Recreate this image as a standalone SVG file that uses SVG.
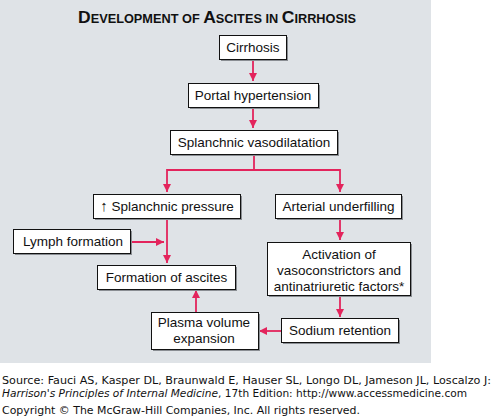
<svg xmlns="http://www.w3.org/2000/svg" width="494" height="417" viewBox="0 0 494 417">
<style>
.bg{fill:#dfe3e7}
.box{fill:#ffffff;stroke:#111;stroke-width:1}
.sh{fill:#8a8e93}
.t{font-family:"Liberation Sans",Arial,sans-serif;font-size:13.5px;fill:#111;text-anchor:middle}
.ttl{font-family:"Liberation Sans",Arial,sans-serif;font-weight:bold;fill:#111}
.c{fill:none;stroke:#e3245c;stroke-width:1.8}
.f{font-family:"DejaVu Sans",Verdana,sans-serif;font-size:10px;fill:#111}
</style>
<defs>
<marker id="ah" markerUnits="userSpaceOnUse" markerWidth="10" markerHeight="10" refX="8" refY="4" orient="auto">
<path d="M0,0 L8,4 L0,8 Z" fill="#e3245c"/>
</marker>
</defs>
<rect class="bg" x="0" y="0" width="431" height="363"/>
<text class="ttl" x="78" y="23" textLength="278" lengthAdjust="spacingAndGlyphs"><tspan font-size="16.5">D</tspan><tspan font-size="12">EVELOPMENT OF </tspan><tspan font-size="16.5">A</tspan><tspan font-size="12">SCITES IN </tspan><tspan font-size="16.5">C</tspan><tspan font-size="12">IRRHOSIS</tspan></text>

<g id="connectors">
<line class="c" x1="253" y1="59" x2="253" y2="81" marker-end="url(#ah)"/>
<line class="c" x1="253" y1="107" x2="253" y2="128" marker-end="url(#ah)"/>
<polyline class="c" points="254,154 254,170"/>
<polyline class="c" points="167,170 340,170"/>
<line class="c" x1="167" y1="169" x2="167" y2="192" marker-end="url(#ah)"/>
<line class="c" x1="340" y1="169" x2="340" y2="192" marker-end="url(#ah)"/>
<line class="c" x1="340" y1="218" x2="340" y2="240" marker-end="url(#ah)"/>
<line class="c" x1="167" y1="218" x2="167" y2="263" marker-end="url(#ah)"/>
<line class="c" x1="130" y1="242" x2="164" y2="242" marker-end="url(#ah)"/>
<line class="c" x1="196" y1="312" x2="196" y2="290" marker-end="url(#ah)"/>
<line class="c" x1="340" y1="295" x2="340" y2="317" marker-end="url(#ah)"/>
<line class="c" x1="281" y1="331" x2="259" y2="331" marker-end="url(#ah)"/>
</g>

<g id="cirrhosis">
<rect class="sh" x="221" y="37" width="67" height="24"/>
<rect class="box" x="219.5" y="35.5" width="67" height="24"/>
<text class="t" x="253" y="52">Cirrhosis</text>
</g>
<g id="portal-hypertension">
<rect class="sh" x="190" y="85" width="130" height="24"/>
<rect class="box" x="188.5" y="83.5" width="130" height="24"/>
<text class="t" x="253" y="100">Portal hypertension</text>
</g>
<g id="splanchnic-vasodilatation">
<rect class="sh" x="172" y="132" width="167" height="24"/>
<rect class="box" x="170.5" y="130.5" width="167" height="24"/>
<text class="t" x="254" y="147">Splanchnic vasodilatation</text>
</g>
<g id="splanchnic-pressure">
<rect class="sh" x="95" y="196" width="147" height="24"/>
<rect class="box" x="93.5" y="194.5" width="147" height="24"/>
<text class="t" x="167" y="211"><tspan font-size="15">↑</tspan> Splanchnic pressure</text>
</g>
<g id="arterial-underfilling">
<rect class="sh" x="277" y="196" width="126" height="24"/>
<rect class="box" x="275.5" y="194.5" width="126" height="24"/>
<text class="t" x="338.5" y="211">Arterial underfilling</text>
</g>
<g id="lymph-formation">
<rect class="sh" x="15" y="231" width="117" height="24"/>
<rect class="box" x="13.5" y="229.5" width="117" height="24"/>
<text class="t" x="73" y="246">Lymph formation</text>
</g>
<g id="activation">
<rect class="sh" x="269" y="244" width="143" height="53"/>
<rect class="box" x="267.5" y="242.5" width="143" height="53"/>
<text class="t" x="339" y="259">Activation of</text>
<text class="t" x="339" y="275">vasoconstrictors and</text>
<text class="t" x="339" y="291">antinatriuretic factors*</text>
</g>
<g id="formation-of-ascites">
<rect class="sh" x="99" y="267" width="138" height="24"/>
<rect class="box" x="97.5" y="265.5" width="138" height="24"/>
<text class="t" x="166.5" y="282">Formation of ascites</text>
</g>
<g id="plasma-volume-expansion">
<rect class="sh" x="153" y="314" width="107" height="37"/>
<rect class="box" x="151.5" y="312.5" width="107" height="37"/>
<text class="t" x="204" y="327">Plasma volume</text>
<text class="t" x="204" y="343">expansion</text>
</g>
<g id="sodium-retention">
<rect class="sh" x="283" y="320" width="117" height="24"/>
<rect class="box" x="281.5" y="318.5" width="117" height="24"/>
<text class="t" x="340" y="335">Sodium retention</text>
</g>

<text class="f" x="2" y="384" textLength="489" lengthAdjust="spacingAndGlyphs">Source: Fauci AS, Kasper DL, Braunwald E, Hauser SL, Longo DL, Jameson JL, Loscalzo J:</text>
<text class="f" x="2" y="397" textLength="465" lengthAdjust="spacingAndGlyphs"><tspan font-style="italic">Harrison's Principles of Internal Medicine</tspan>, 17th Edition: http://www.accessmedicine.com</text>
<text class="f" x="2" y="414" textLength="358" lengthAdjust="spacingAndGlyphs">Copyright © The McGraw-Hill Companies, Inc. All rights reserved.</text>
</svg>
